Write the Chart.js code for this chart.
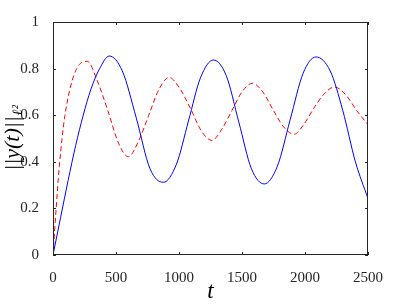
<!DOCTYPE html>
<html>
<head>
<meta charset="utf-8">
<script src="https://cdn.jsdelivr.net/npm/chart.js@4"></script>
<style>
  html, body { margin: 0; padding: 0; background: #fff; }
  #wrap { width: 407px; height: 305px; }
</style>
</head>
<body>
<div id="wrap"><canvas id="myChart"></canvas></div>
<script>
  // values
  const tBlue = [0, 60, 120, 180, 240, 300, 370, 447, 550, 660, 770, 876, 980, 1075, 1170, 1273, 1375, 1475, 1575, 1677, 1780, 1882, 1985, 2087, 2200, 2300, 2400, 2500];
  const yBlue = [0, 0.16, 0.32, 0.47, 0.6, 0.71, 0.8, 0.854, 0.79, 0.59, 0.37, 0.312, 0.39, 0.575, 0.76, 0.837, 0.77, 0.57, 0.37, 0.305, 0.38, 0.58, 0.78, 0.85, 0.79, 0.62, 0.40, 0.242];
  const tRed = [0, 25, 50, 95, 188, 273, 350, 435, 520, 598, 680, 760, 840, 921, 1000, 1090, 1180, 1262, 1340, 1420, 1500, 1582, 1665, 1750, 1830, 1913, 1990, 2070, 2150, 2233, 2320, 2410, 2500];
  const yRed = [0, 0.2, 0.38, 0.6, 0.8, 0.831, 0.75, 0.62, 0.48, 0.422, 0.49, 0.6, 0.71, 0.762, 0.72, 0.63, 0.53, 0.492, 0.54, 0.62, 0.70, 0.737, 0.70, 0.62, 0.55, 0.518, 0.56, 0.63, 0.69, 0.721, 0.69, 0.62, 0.559];
  const xTicks = [0, 500, 1000, 1500, 2000, 2500];
  const yTicks = [0, 0.2, 0.4, 0.6, 0.8, 1];

  const axisColor = '#262626';
  const serif = "'Liberation Serif', 'DejaVu Serif', serif";

  // frame, inward ticks and axis titles
  const boxPlugin = {
    id: 'box',
    afterDraw(chart) {
      const { ctx, chartArea: a, scales } = chart;
      ctx.save();
      ctx.strokeStyle = axisColor;
      ctx.lineWidth = 1;
      ctx.strokeRect(a.left + 0.5, a.top + 0.5, a.right - a.left - 1, a.bottom - a.top - 1);
      ctx.beginPath();
      xTicks.forEach(v => {
        const x = Math.round(scales.x.getPixelForValue(v)) + 0.5;
        ctx.moveTo(x, a.bottom); ctx.lineTo(x, a.bottom - 3);
        ctx.moveTo(x, a.top); ctx.lineTo(x, a.top + 3);
      });
      yTicks.forEach(v => {
        const y = Math.round(scales.y.getPixelForValue(v)) + 0.5;
        ctx.moveTo(a.left, y); ctx.lineTo(a.left + 3, y);
        ctx.moveTo(a.right, y); ctx.lineTo(a.right - 3, y);
      });
      ctx.stroke();

      ctx.fillStyle = '#000';
      ctx.textAlign = 'center';
      ctx.textBaseline = 'alphabetic';
      ctx.font = "italic 23px " + serif;
      ctx.fillText('t', (a.left + a.right) / 2, 298);

      // y title rotated, with small subscript
      ctx.translate(19, (a.top + a.bottom) / 2);
      ctx.rotate(-Math.PI / 2);
      ctx.font = "italic 22px " + serif;
      const main = '||y(t)||';
      const w = ctx.measureText(main).width;
      ctx.font = "italic 14px " + serif;
      const sub = 'ℓ²';
      const ws = ctx.measureText(sub).width;
      const start = -(w + ws) / 2;
      ctx.textAlign = 'left';
      ctx.font = "italic 22px " + serif;
      ctx.fillText(main, start, 0);
      ctx.font = "italic 14px " + serif;
      ctx.fillText(sub, start + w + 1, 3);
      ctx.restore();
    }
  };

  new Chart(document.getElementById('myChart'), {
    type: 'line',
    data: {
      datasets: [{
        data: tBlue.map((t, i) => ({ x: t, y: yBlue[i] })),
        borderColor: '#0000ff',
        borderWidth: 1,
        pointRadius: 0,
        cubicInterpolationMode: 'monotone'
      }, {
        data: tRed.map((t, i) => ({ x: t, y: yRed[i] })),
        borderColor: '#ff0000',
        borderWidth: 1,
        borderDash: [5, 3],
        pointRadius: 0,
        cubicInterpolationMode: 'monotone'
      }]
    },
    options: {
      responsive: true,
      maintainAspectRatio: false,
      animation: false,
      layout: { padding: { left: 0, right: 39, top: 22, bottom: 0 } },
      plugins: { legend: { display: false }, tooltip: { enabled: false } },
      scales: {
        x: {
          type: 'linear',
          min: 0, max: 2500,
          grid: { display: false },
          border: { display: false },
          afterBuildTicks: s => { s.ticks = xTicks.map(v => ({ value: v })); },
          afterFit: s => { s.height = 50; },
          ticks: { color: '#262626', padding: 6, maxRotation: 0, font: { family: serif, size: 15 }, callback: v => String(v) }
        },
        y: {
          min: 0, max: 1,
          grid: { display: false },
          border: { display: false },
          afterBuildTicks: s => { s.ticks = yTicks.map(v => ({ value: v })); },
          afterFit: s => { s.width = 53; },
          ticks: { color: '#262626', padding: 6, font: { family: serif, size: 15 }, callback: v => String(v) }
        }
      }
    },
    plugins: [boxPlugin]
  });
</script>
</body>
</html>
